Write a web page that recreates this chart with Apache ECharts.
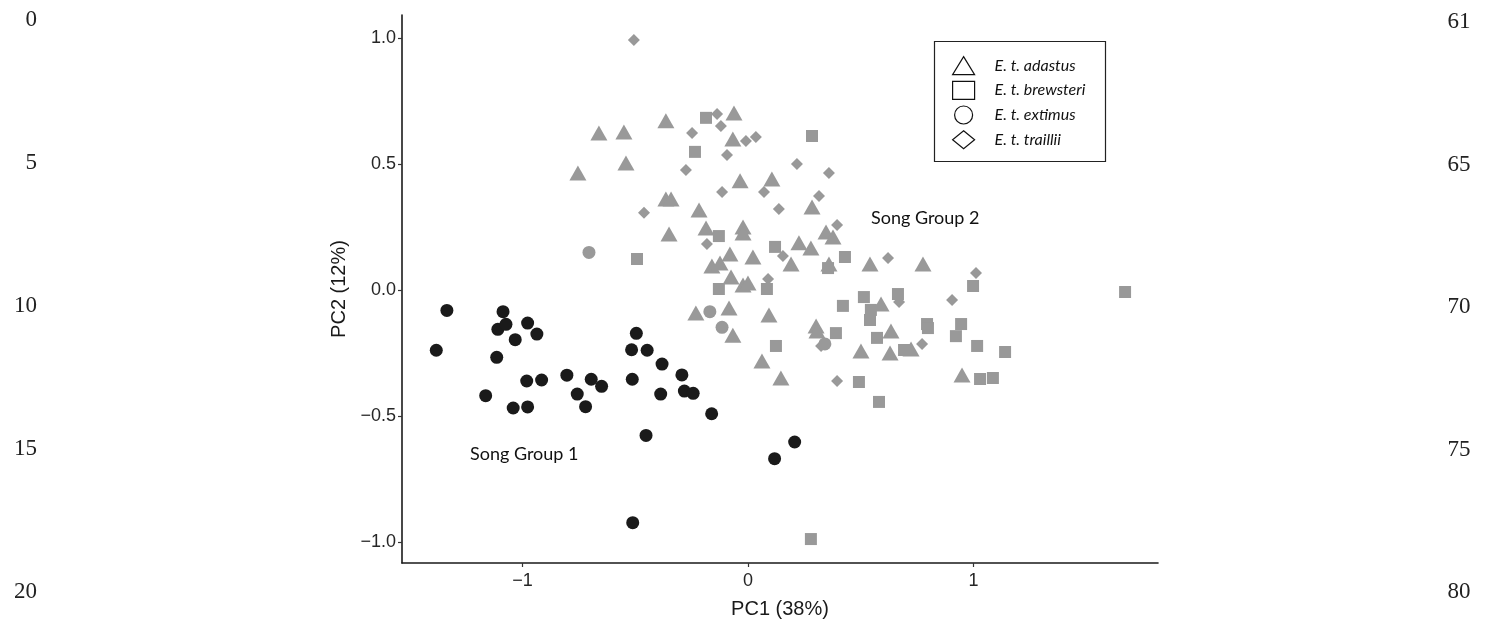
<!DOCTYPE html>
<html>
<head>
<meta charset="utf-8">
<script src="https://cdn.jsdelivr.net/npm/echarts@6/dist/echarts.min.js"></script>
<style>
  html, body { margin: 0; padding: 0; background: #fff; }
  #chart { width: 1487px; height: 629px; }
</style>
</head>
<body>
<div id="chart"></div>
<script>
// PC1 / PC2 scores, one list per subspecies
var adastus = [
  [-0.661, 0.623], [-0.550, 0.627], [-0.754, 0.464], [-0.541, 0.504], [-0.364, 0.671],
  [-0.062, 0.702], [-0.067, 0.599], [-0.035, 0.433], [0.106, 0.440], [-0.364, 0.361],
  [-0.341, 0.361], [-0.217, 0.317], [-0.350, 0.222], [-0.186, 0.246], [-0.022, 0.250],
  [-0.022, 0.226], [-0.080, 0.143], [0.022, 0.131], [-0.160, 0.095], [-0.124, 0.107],
  [-0.075, 0.052], [-0.022, 0.020], [0.000, 0.028], [-0.231, -0.091], [-0.084, -0.071],
  [-0.067, -0.179], [0.093, -0.099], [0.062, -0.282], [0.146, -0.349], [0.284, 0.329],
  [0.346, 0.230], [0.377, 0.210], [0.226, 0.187], [0.279, 0.167], [0.191, 0.103],
  [0.359, 0.103], [0.541, 0.103], [0.776, 0.103], [0.302, -0.143], [0.306, -0.163],
  [0.590, -0.056], [0.501, -0.242], [0.634, -0.163], [0.630, -0.250], [0.723, -0.234],
  [0.949, -0.337]
];
var brewsteri = [
  [-0.186, 0.683], [-0.235, 0.548], [-0.492, 0.123], [-0.129, 0.214], [-0.129, 0.004],
  [0.084, 0.004], [0.120, 0.171], [0.284, 0.611], [0.430, 0.131], [0.355, 0.087],
  [0.514, -0.028], [0.665, -0.016], [0.998, 0.016], [1.672, -0.008], [0.421, -0.063],
  [0.545, -0.079], [0.541, -0.119], [0.390, -0.171], [0.572, -0.190], [0.794, -0.135],
  [0.798, -0.151], [0.945, -0.135], [0.922, -0.183], [1.016, -0.222], [1.140, -0.246],
  [0.692, -0.238], [0.492, -0.365], [1.029, -0.353], [1.086, -0.349], [0.581, -0.444],
  [0.124, -0.222], [0.279, -0.988]
];
var traillii = [
  [-0.506, 0.992], [-0.137, 0.698], [-0.120, 0.651], [-0.248, 0.623], [-0.009, 0.591],
  [0.035, 0.607], [-0.093, 0.536], [-0.275, 0.476], [-0.115, 0.389], [0.071, 0.389],
  [-0.461, 0.306], [0.137, 0.321], [-0.182, 0.183], [0.089, 0.044], [0.217, 0.500],
  [0.359, 0.464], [0.315, 0.373], [0.395, 0.258], [0.155, 0.135], [0.621, 0.127],
  [1.011, 0.067], [0.905, -0.040], [0.670, -0.048], [0.772, -0.214], [0.324, -0.222],
  [0.395, -0.361]
];
// extimus: a few fall in song group 2 (grey), the rest make song group 1 (black)
var extimusGroup2 = [
  [-0.705, 0.149], [-0.169, -0.086], [-0.115, -0.148], [0.341, -0.214]
];
var extimusGroup1 = [
  [-1.335, -0.081], [-1.382, -0.239], [-1.086, -0.086], [-1.109, -0.156], [-1.073, -0.136],
  [-0.977, -0.131], [-1.032, -0.197], [-0.936, -0.175], [-1.114, -0.267], [-0.981, -0.361],
  [-0.915, -0.357], [-1.163, -0.419], [-1.041, -0.468], [-0.977, -0.464], [-0.803, -0.338],
  [-0.757, -0.413], [-0.695, -0.354], [-0.649, -0.382], [-0.720, -0.463], [-0.495, -0.172],
  [-0.516, -0.237], [-0.447, -0.239], [-0.381, -0.294], [-0.513, -0.354], [-0.387, -0.413],
  [-0.293, -0.337], [-0.282, -0.401], [-0.243, -0.410], [-0.161, -0.491], [-0.452, -0.577],
  [-0.511, -0.923], [0.118, -0.669], [0.207, -0.603]
];

var xTicks = [-1, 0, 1];
var yTicks = [-1, -0.5, 0, 0.5, 1];
var leftLineNumbers = ["0", "5", "10", "15", "20"];
var rightLineNumbers = ["61", "65", "70", "75", "80"];

var GREY = "#999999";
var BLACK = "#1a1a1a";

function minus(s) { return s.replace("-", "\u2212"); }

var chart = echarts.init(document.getElementById("chart"), null, { renderer: "canvas" });

// manuscript line numbers down both margins
var marginText = [];
for (var i = 0; i < leftLineNumbers.length; i++) {
  marginText.push({
    type: "text", x: 37, y: 20 + i * 143,
    style: { text: leftLineNumbers[i], font: "23px 'Liberation Serif'", fill: "#222", align: "right", verticalAlign: "middle" }
  });
  marginText.push({
    type: "text", x: 1459, y: 22 + i * 142.5,
    style: { text: rightLineNumbers[i], font: "23px 'Liberation Serif'", fill: "#222", align: "center", verticalAlign: "middle" }
  });
}

var option = {
  animation: false,
  backgroundColor: "#fff",
  grid: { left: 402, right: 329, top: 15, bottom: 66, containLabel: false },
  xAxis: {
    type: "value",
    min: -1.534, max: 1.818,
    name: "PC1 (38%)", nameLocation: "middle", nameGap: 36,
    nameTextStyle: { fontFamily: "Liberation Sans", fontSize: 20, color: "#1a1a1a" },
    axisLine: { show: true, onZero: false, lineStyle: { color: "#1a1a1a", width: 1.6 } },
    axisTick: { show: true, length: 4, customValues: xTicks, lineStyle: { color: "#333", width: 1.2 } },
    axisLabel: {
      customValues: xTicks, margin: 9,
      fontFamily: "Liberation Sans", fontSize: 18, color: "#262626",
      formatter: function (v) { return minus(String(v)); }
    },
    splitLine: { show: false }
  },
  yAxis: {
    type: "value",
    min: -1.083, max: 1.091,
    name: "PC2 (12%)", nameLocation: "middle", nameGap: 46, nameRotate: 90,
    nameTextStyle: { fontFamily: "Liberation Sans", fontSize: 20, color: "#1a1a1a" },
    axisLine: { show: true, onZero: false, lineStyle: { color: "#1a1a1a", width: 1.6 } },
    axisTick: { show: true, length: 4, customValues: yTicks, lineStyle: { color: "#333", width: 1.2 } },
    axisLabel: {
      customValues: yTicks, margin: 6,
      fontFamily: "Liberation Sans", fontSize: 18, color: "#262626",
      formatter: function (v) { return minus(v.toFixed(1)); }
    },
    splitLine: { show: false }
  },
  legend: {
    orient: "vertical", left: 952, top: 56, padding: 0,
    itemWidth: 22, itemHeight: 18, itemGap: 5.5,
    selectedMode: false,
    textStyle: { fontFamily: "Lato", fontStyle: "italic", fontSize: 16, color: "#111", padding: [0, 0, 0, 15] },
    data: [
      { name: "E. t. adastus", icon: "triangle", itemStyle: { color: "#fff", borderColor: "#111", borderWidth: 1.2 } },
      { name: "E. t. brewsteri", icon: "rect", itemStyle: { color: "#fff", borderColor: "#111", borderWidth: 1.2 } },
      { name: "E. t. extimus", icon: "circle", itemStyle: { color: "#fff", borderColor: "#111", borderWidth: 1.2 } },
      { name: "E. t. traillii", icon: "diamond", itemStyle: { color: "#fff", borderColor: "#111", borderWidth: 1.2 } }
    ]
  },
  graphic: marginText.concat([
    { type: "rect", shape: { x: 934.5, y: 41.5, width: 171, height: 120 }, style: { fill: null, stroke: "#222", lineWidth: 1.2 }, z: 10 },
    { type: "text", x: 871, y: 218, style: { text: "Song Group 2", font: "18px Lato", fill: "#111", verticalAlign: "middle" } },
    { type: "text", x: 470, y: 454, style: { text: "Song Group 1", font: "18px Lato", fill: "#111", verticalAlign: "middle" } }
  ]),
  series: [
    { name: "E. t. adastus", type: "scatter", data: adastus, symbol: "triangle", symbolSize: [17, 15], itemStyle: { color: GREY, opacity: 1 } },
    { name: "E. t. brewsteri", type: "scatter", data: brewsteri, symbol: "rect", symbolSize: 12, itemStyle: { color: GREY, opacity: 1 } },
    { name: "E. t. extimus", type: "scatter", data: extimusGroup2, symbol: "circle", symbolSize: 13, itemStyle: { color: GREY, opacity: 1 } },
    { name: "E. t. traillii", type: "scatter", data: traillii, symbol: "diamond", symbolSize: 12, itemStyle: { color: GREY, opacity: 1 } },
    { name: "E. t. extimus", type: "scatter", data: extimusGroup1, symbol: "circle", symbolSize: 13, itemStyle: { color: BLACK, opacity: 1 } }
  ]
};

chart.setOption(option);
</script>
</body>
</html>
